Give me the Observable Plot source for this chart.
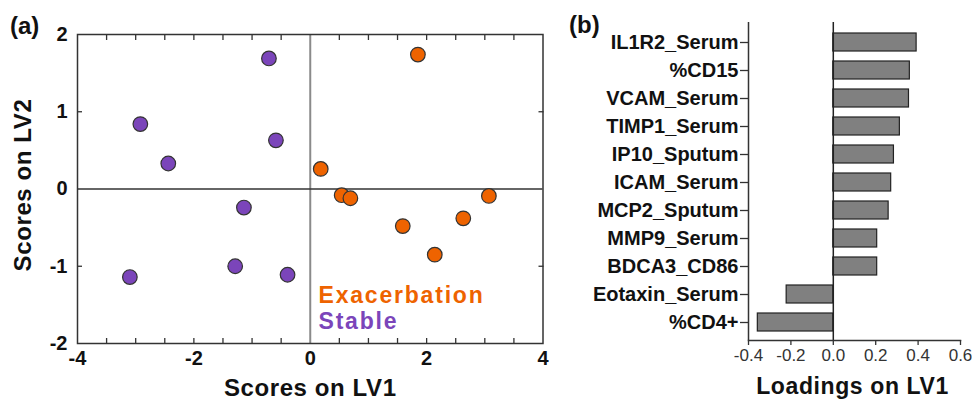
<!DOCTYPE html>
<html>
<head>
<meta charset="utf-8">
<script src="https://cdn.jsdelivr.net/npm/d3@7"></script>
<script src="https://cdn.jsdelivr.net/npm/@observablehq/plot@0.6"></script>
<style>
html, body { margin: 0; padding: 0; background: #fff; }
#wrap { position: relative; width: 972px; height: 403px; overflow: hidden; font-family: "Liberation Sans", Arial, sans-serif; }
#pa { position: absolute; left: 0; top: 0; }
#pb { position: absolute; left: 560px; top: 0; }
.tag { position: absolute; font-weight: bold; font-size: 24px; line-height: 24px; color: #111; font-family: "Liberation Sans", Arial, sans-serif; }
</style>
</head>
<body>
<div id="wrap">
  <div id="pa"></div>
  <div id="pb"></div>
  <div class="tag" style="left:10px; top:14px;">(a)</div>
  <div class="tag" style="left:569px; top:13px;">(b)</div>
</div>
<script>
// ---- Panel (a): scores ----
const stableX = [-0.71, -2.92, -0.59, -2.44, -1.14, -1.29, -0.39, -3.10];
const stableY = [1.69, 0.84, 0.63, 0.33, -0.24, -1.00, -1.11, -1.14];
const exacX = [1.85, 0.18, 0.54, 0.69, 3.07, 1.59, 2.63, 2.14];
const exacY = [1.74, 0.26, -0.08, -0.12, -0.09, -0.48, -0.38, -0.85];
const groups = ["Exacerbation", "Stable"];
const groupColors = ["#EE6300", "#7B45BA"];
const xTicksA = [-4, -2, 0, 2, 4];
const yTicksA = [-2, -1, 0, 1, 2];
const xMinorTicksA = [-3.5, -3, -2.5, -2, -1.5, -1, -0.5, 0.5, 1, 1.5, 2, 2.5, 3, 3.5];
const yMinorTicksA = [-1, 1];
const xTitleA = "Scores on LV1";
const yTitleA = "Scores on LV2";

// ---- Panel (b): loadings ----
const loadingNames = ["IL1R2_Serum", "%CD15", "VCAM_Serum", "TIMP1_Serum", "IP10_Sputum", "ICAM_Serum",
  "MCP2_Sputum", "MMP9_Serum", "BDCA3_CD86", "Eotaxin_Serum", "%CD4+"];
const loadingValues = [0.393, 0.361, 0.357, 0.314, 0.286, 0.273, 0.261, 0.207, 0.207, -0.220, -0.356];
const xTicksB = [-0.4, -0.2, 0.0, 0.2, 0.4, 0.6];
const xTitleB = "Loadings on LV1";

const font = "'Liberation Sans', Arial, sans-serif";

const points = [
  ...stableX.map((x, i) => ({x, y: stableY[i], group: groups[1]})),
  ...exacX.map((x, i) => ({x, y: exacY[i], group: groups[0]}))
];

const chartA = Plot.plot({
  width: 560, height: 403,
  marginLeft: 77, marginRight: 17.5, marginTop: 34, marginBottom: 60,
  style: {fontFamily: font, background: "transparent", overflow: "visible"},
  x: {domain: [-4, 4], label: null},
  y: {domain: [-2, 2], label: null},
  color: {domain: groups, range: groupColors},
  marks: [
    Plot.ruleX([0], {stroke: "#8a8a8a", strokeWidth: 2}),
    Plot.ruleY([0], {stroke: "#333", strokeWidth: 1.5}),
    Plot.frame({stroke: "#333", strokeWidth: 1.5}),
    Plot.axisX({anchor: "bottom", ticks: xMinorTicksA, tickSize: -5, tickFormat: () => "", label: null, stroke: "#333", strokeWidth: 1.3}),
    Plot.axisX({anchor: "top", ticks: xMinorTicksA, tickSize: -5, tickFormat: () => "", label: null, stroke: "#333", strokeWidth: 1.3}),
    Plot.axisY({anchor: "left", ticks: yMinorTicksA, tickSize: -5, tickFormat: () => "", label: null, stroke: "#333", strokeWidth: 1.3}),
    Plot.axisY({anchor: "right", ticks: yMinorTicksA, tickSize: -5, tickFormat: () => "", label: null, stroke: "#333", strokeWidth: 1.3}),
    Plot.axisX({anchor: "bottom", ticks: xTicksA, tickSize: 0, tickPadding: 7, fontSize: 20, fontWeight: "bold", fill: "#111", label: null,
      tickFormat: d => String(d)}),
    Plot.axisY({anchor: "left", ticks: yTicksA, tickSize: 0, tickPadding: 10, fontSize: 20, fontWeight: "bold", fill: "#111", label: null,
      tickFormat: d => String(d)}),
    Plot.dot(points, {x: "x", y: "y", fill: "group", r: 7.3, stroke: "#333", strokeWidth: 1.2}),
    Plot.text([xTitleA], {text: d => d, frameAnchor: "bottom", dy: 45, fontSize: 24, fontWeight: "bold", fill: "#111", lineAnchor: "middle"}),
    Plot.text([yTitleA], {text: d => d, frameAnchor: "left", dx: -54, dy: -4, rotate: -90, textAnchor: "middle", fontSize: 24, fontWeight: "bold", fill: "#111", lineAnchor: "middle"}),
    Plot.text([groups[0]], {text: d => d, frameAnchor: "bottom-left", dx: 241, dy: -48, textAnchor: "start", lineAnchor: "middle", fontSize: 23, fontWeight: "bold", fill: groupColors[0]}),
    Plot.text([groups[1]], {text: d => d, frameAnchor: "bottom-left", dx: 241, dy: -22, textAnchor: "start", lineAnchor: "middle", fontSize: 23, fontWeight: "bold", fill: groupColors[1]})
  ]
});
document.getElementById("pa").appendChild(chartA);

const loadings = loadingNames.map((name, i) => ({name, value: loadingValues[i]}));

const chartB = Plot.plot({
  width: 412, height: 403,
  marginLeft: 188, marginRight: 12, marginTop: 22, marginBottom: 63,
  style: {fontFamily: font, background: "transparent", overflow: "visible"},
  x: {domain: [-0.4, 0.6], label: null},
  y: {domain: loadingNames, range: [28, 336.5], paddingInner: 0.36, paddingOuter: 0.18, label: null},
  marks: [
    Plot.barX(loadings, {x: "value", y: "name", fill: "#808080", stroke: "#222", strokeWidth: 1.2}),
    Plot.ruleX([0], {stroke: "#222", strokeWidth: 1.5}),
    Plot.ruleX([-0.4], {stroke: "#333", strokeWidth: 1.5}),
    Plot.frame({anchor: "bottom", stroke: "#333", strokeWidth: 1.5}),
    Plot.axisY({anchor: "left", tickSize: 8, tickPadding: 2, fontSize: 20, fontWeight: "bold", fill: "#111", stroke: "#333", strokeWidth: 1.3, label: null}),
    Plot.axisX({anchor: "bottom", ticks: xTicksB, tickSize: 5, tickPadding: 3, fontSize: 17, fill: "#333", stroke: "#333", strokeWidth: 1.3, label: null,
      tickFormat: d => d.toFixed(1)}),
    Plot.text([xTitleB], {text: d => d, frameAnchor: "bottom", dy: 46, dx: -2, fontSize: 23, fontWeight: "bold", fill: "#111", lineAnchor: "middle"})
  ]
});
document.getElementById("pb").appendChild(chartB);

// letter spacing tweaks (set directly on text elements)
const spacingA = {[groups[0]]: "1.8px", [groups[1]]: "1.8px", [xTitleA]: "0.6px", [yTitleA]: "0.6px"};
d3.select(chartA).selectAll("text").each(function() {
  const s = spacingA[this.textContent];
  if (s) this.style.letterSpacing = s;
});
d3.select(chartB).selectAll("text").each(function() {
  const t = this.textContent;
  if (t === xTitleB) this.style.letterSpacing = "0.6px";
});
</script>
</body>
</html>
